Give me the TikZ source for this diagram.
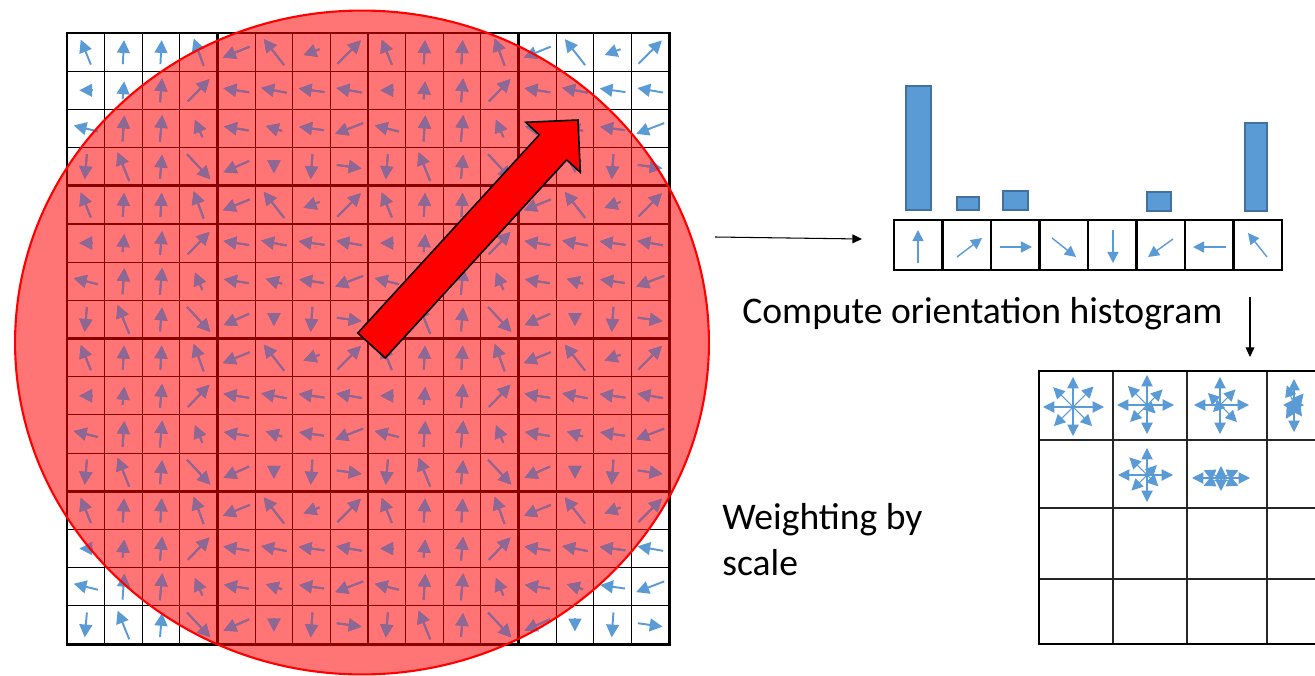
\documentclass[tikz,border=0pt]{standalone}
\usepackage{fontspec}
\setmainfont{Carlito}
\usetikzlibrary{arrows.meta}
\definecolor{gblue}{RGB}{91,155,213}
\definecolor{gpurple}{RGB}{140,104,150}
\definecolor{bardark}{RGB}{65,113,156}
\newcommand\mygridarrows[1]{%
  \foreach \bi in {0,1,2,3}{\foreach \bj in {0,1}{%
  \foreach \r/\c/\a/\l in {0/0/112/27,0/1/87/24,0/2/87/24,0/3/110/29,0/4/202/29,0/5/128/33,0/6/200/17,0/7/45/33,
    1/0/180/13,1/1/85/18,1/2/85/24,1/3/46/31,1/4/171/26,1/5/169/26,1/6/172/26,1/7/170/26,
    2/0/166/25,2/1/86/26,2/2/85/27,2/3/113/19,2/4/171/25,2/5/163/17,2/6/172/25,2/7/201/30,
    3/0/265/25,3/1/112/31,3/2/85/24,3/3/313/34,3/4/204/28,3/5/270/13,3/6/266/25,3/7/352/25}{%
    \pgfmathsetmacro\cx{67+37.625*(8*\bj+\c+0.5)}%
    \pgfmathsetmacro\cy{33+38.19*(4*\bi+\r+0.5)}%
    \draw[garrow,#1] ({\cx-0.5*\l*cos(\a)},{\cy+0.5*\l*sin(\a)}) -- ({\cx+0.5*\l*cos(\a)},{\cy-0.5*\l*sin(\a)});
  }}}}
\newcommand\mystar[3]{%
  \foreach \a/\l in {#3}{%
    \draw[sarrow] (#1,#2) -- ({#1+\l*cos(\a)},{#2-\l*sin(\a)});
  }}
\begin{document}
\begin{tikzpicture}[x=0.02cm,y=-0.02cm,
  garrow/.style={line width=1.1pt,-{Triangle[length=7.3pt,width=7.3pt]}},
  harrow/.style={gblue,line width=0.8pt,-{Triangle[length=6.3pt,width=6.3pt]}},
  sarrow/.style={gblue,line width=0.6pt,-{Triangle[length=6.5pt,width=6.5pt]}},
  thin grid/.style={line width=0.65pt,black},
  thick grid/.style={line width=1.6pt,black},
  bar/.style={fill=gblue,draw=bardark,line width=0.9pt},
  hcell/.style={draw=black,line width=1.2pt},
  conn/.style={black,line width=0.6pt,-{Triangle[length=5.5pt,width=5pt]}},
  label/.style={font=\fontsize{21.4}{25.7}\selectfont,anchor=base west,inner sep=0pt}]
\useasboundingbox (0,0) rectangle (1315,676);
% ---- gradient grid ----
\mygridarrows{gblue}
\foreach \i in {0,...,16}{
  \draw[thin grid] ({67+37.625*\i},33) -- ({67+37.625*\i},644);
  \draw[thin grid] (67,{33+38.19*\i}) -- (669,{33+38.19*\i});
}
\foreach \i in {4,8,12}{
  \draw[thick grid] ({67+37.625*\i},33) -- ({67+37.625*\i},644);
  \draw[thick grid] (67,{33+38.19*\i}) -- (669,{33+38.19*\i});
}
\draw[line width=1.7pt] (67,33) rectangle (669,644);
% ---- weighting circle ----
\fill[red,fill opacity=0.54] (362,342.5) ellipse [x radius=6.94cm,y radius=6.64cm];
\begin{scope}
  \clip (362,342.5) ellipse [x radius=6.94cm,y radius=6.64cm];
  \mygridarrows{gpurple}
\end{scope}
\draw[red,line width=1.2pt] (362,342.5) ellipse [x radius=6.94cm,y radius=6.64cm];
% ---- big dominant arrow ----
\draw[fill=red,line width=0.9pt,line join=miter] (357.8,333) -- (539.3,134.8) -- (525.7,122.3) -- (578,120) -- (580.3,172.3) -- (566.7,159.8) -- (385.2,358) -- cycle;
% ---- histogram ----
\foreach \i in {0,...,7}{
  \draw[hcell] ({894+48.5*\i},220) rectangle ++(48.5,50);
}
\coordinate (histin) at (862,239);
\coordinate (gridout) at (715,237);
\draw[bar] (906,86) rectangle (931,210);
\draw[bar] (957,197) rectangle (979,210);
\draw[bar] (1003,191) rectangle (1028,210);
\draw[bar] (1147,192) rectangle (1171,211);
\draw[bar] (1245,123) rectangle (1267,211);
\draw[harrow] (918,263) -- (918,230);
\draw[harrow] (957,257) -- (982,238);
\draw[harrow] (1000,247) -- (1032,247);
\draw[harrow] (1052,238) -- (1076,257);
\draw[harrow] (1113,230) -- (1113,263);
\draw[harrow] (1173,239) -- (1148,257);
\draw[harrow] (1226,247) -- (1193,247);
\draw[harrow] (1267,257) -- (1248,233);
\draw[conn] (gridout) -- (histin);
% ---- labels ----
\node[label] (compute) at (742,323) {Compute orientation histogram};
\node[label,align=left] (weight) at (722,575) {Weighting by\\scale};
\coordinate (downtop) at (1250,297);
\coordinate (downbot) at (1250,357);
\draw[conn] (downtop) -- (downbot);
% ---- descriptor grid ----
\foreach \x in {1113,1187,1267}{
  \draw[line width=0.6pt,black!85] (\x,371) -- (\x,644);
}
\foreach \y in {440,508,579}{
  \draw[line width=0.6pt,black!85] (1039,\y) -- (1315,\y);
}
\draw[line width=1.3pt] (1315,371) -- (1039,371) -- (1039,644) -- (1315,644);
\mystar{1073}{407}{90/30,45/29,0/31,-45/27,-90/29,-135/27,180/30,135/28}
\mystar{1147}{405}{90/30,45/22,0/27,-45/12,-90/29,-135/24,180/30,135/27}
\mystar{1220}{405}{90/28,45/22,0/29,-45/24,-90/29,-135/10,180/26,135/17}
\mystar{1294}{405}{90/26,50/15,0/10,-55/14,-90/27,-120/16,180/11,110/21}
\mystar{1147}{475}{90/27,45/14,0/26,-45/16,-90/27,-135/22,180/29,135/25}
\mystar{1221}{478}{90/12,24/19,0/29,-24/19,-90/13,-156/19,180/29,156/19}
\end{tikzpicture}
\end{document}
